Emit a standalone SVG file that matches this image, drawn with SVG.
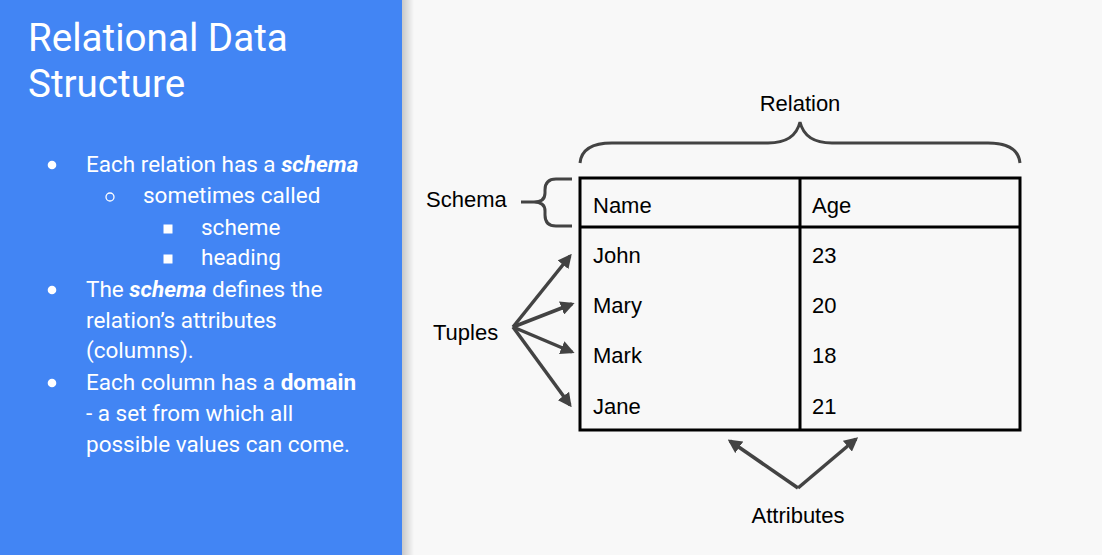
<svg xmlns="http://www.w3.org/2000/svg" width="1102" height="555" viewBox="0 0 1102 555">
<defs>
<linearGradient id="shadow" x1="0" y1="0" x2="1" y2="0">
<stop offset="0" stop-color="#c8c8c8"/>
<stop offset="1" stop-color="#f8f8f8"/>
</linearGradient>
<marker id="arr" viewBox="0 0 10 10" refX="8" refY="5" markerWidth="4" markerHeight="4" orient="auto" markerUnits="strokeWidth">
<path d="M0,0 L10,5 L0,10 z" fill="#434343"/>
</marker>
<style>
.t{font-family:Roboto,"Liberation Sans",sans-serif;fill:#ffffff}
.b{font-size:22.5px}
.d{font-family:"Liberation Sans",Arial,sans-serif;font-size:22px;fill:#000000}
.brace{fill:none;stroke:#434343;stroke-width:3;stroke-linecap:butt}
.conn{fill:none;stroke:#434343;stroke-width:3.5;marker-end:url(#arr)}
.tbl{fill:none;stroke:#000000;stroke-width:3}
</style>
</defs>
<rect x="0" y="0" width="1102" height="555" fill="#f8f8f8"/>
<rect x="402" y="0" width="12" height="555" fill="url(#shadow)"/>
<rect x="0" y="0" width="402" height="555" fill="#4285f4"/>
<g id="title">
<text class="t" x="28" y="51" font-size="38.6">Relational Data</text>
<text class="t" x="28" y="97" font-size="38.6">Structure</text>
</g>
<g id="bullets">
<circle cx="52" cy="165" r="4.3" fill="#fff"/>
<text class="t b" x="86" y="172">Each relation has a <tspan font-weight="bold" font-style="italic">schema</tspan></text>
<circle cx="110" cy="197" r="4" fill="none" stroke="#fff" stroke-width="1.3"/>
<text class="t b" x="143" y="203">sometimes called</text>
<rect x="163.5" y="224.5" width="9" height="9" fill="#fff"/>
<text class="t b" x="201" y="235">scheme</text>
<rect x="163.5" y="254.5" width="9" height="9" fill="#fff"/>
<text class="t b" x="201" y="265">heading</text>
<circle cx="52" cy="290" r="4.3" fill="#fff"/>
<text class="t b" x="86" y="297">The <tspan font-weight="bold" font-style="italic">schema</tspan> defines the</text>
<text class="t b" x="86" y="328">relation’s attributes</text>
<text class="t b" x="86" y="358">(columns).</text>
<circle cx="52" cy="383" r="4.3" fill="#fff"/>
<text class="t b" x="86" y="390">Each column has a <tspan font-weight="bold">domain</tspan></text>
<text class="t b" x="86" y="421">- a set from which all</text>
<text class="t b" x="86" y="452">possible values can come.</text>
</g>
<g id="relation-table">
<rect class="tbl" x="580" y="178" width="440" height="252"/>
<line class="tbl" x1="580" y1="227" x2="1020" y2="227"/>
<line class="tbl" x1="800" y1="178" x2="800" y2="430"/>
<text class="d" x="593" y="213">Name</text>
<text class="d" x="812" y="213">Age</text>
<text class="d" x="593" y="263">John</text>
<text class="d" x="812" y="263">23</text>
<text class="d" x="593" y="313">Mary</text>
<text class="d" x="812" y="313">20</text>
<text class="d" x="593" y="363">Mark</text>
<text class="d" x="812" y="363">18</text>
<text class="d" x="593" y="414">Jane</text>
<text class="d" x="812" y="414">21</text>
</g>
<g id="relation-label">
<text class="d" x="800" y="111" text-anchor="middle">Relation</text>
<path class="brace" d="M580,163 Q582,143 612,143 L768,143 Q795,143 800,122 Q805,143 832,143 L988,143 Q1018,143 1020,163"/>
</g>
<g id="schema-label">
<text class="d" x="426" y="207">Schema</text>
<path class="brace" d="M572,179 L556,179 Q545,179 545,190 L545,193 Q545,202 534,202 L521,202 M534,202 Q545,202 545,211 L545,215 Q545,226 556,226 L572,226"/>
</g>
<g id="tuples-label">
<text class="d" x="433" y="340">Tuples</text>
</g>
<g id="attributes-label">
<text class="d" x="798" y="523" text-anchor="middle">Attributes</text>
</g>
<g id="connectors">
<line class="conn" x1="513" y1="327" x2="570" y2="256"/>
<line class="conn" x1="513" y1="327" x2="572" y2="304"/>
<line class="conn" x1="513" y1="327" x2="572" y2="352"/>
<line class="conn" x1="513" y1="327" x2="570" y2="405"/>
<line class="conn" x1="798" y1="488" x2="730" y2="441"/>
<line class="conn" x1="798" y1="488" x2="856" y2="439"/>
</g>
</svg>
